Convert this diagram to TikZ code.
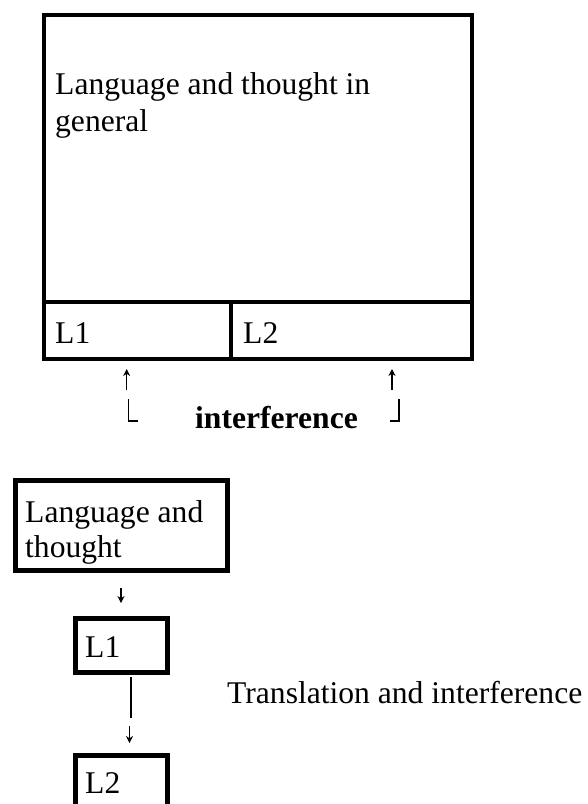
\documentclass[tikz,border=0pt]{standalone}
\usepackage{fontspec}
\setmainfont{Liberation Serif}
\usetikzlibrary{arrows.meta,calc}

\tikzset{
  box/.style={draw, line width=4pt, inner sep=0pt, anchor=north west},
  heavybox/.style={draw, line width=5pt, inner sep=0pt, anchor=north west},
  label/.style={anchor=base west, inner sep=0pt, align=left,
    font=\fontsize{31.6}{36}\selectfont},
  thinarrow/.style={line width=1.3pt, -{Stealth[length=7pt,width=7pt]}},
  bracket/.style={line width=1.3pt},
  stem/.style={line width=2pt}
}

\begin{document}
\begin{tikzpicture}[x=1pt, y=-1pt]
  \useasboundingbox (0,0) rectangle (587,804);
  \clip (0,0) rectangle (587,804);

  % general block with the two language cells underneath
  \node[box, minimum width=428pt, minimum height=287pt] (general) at (42,13) {};
  \node[box, minimum width=187pt, minimum height=57pt] (cellA) at (42,300) {};
  \node[box, minimum width=241pt, minimum height=57pt] (cellB) at (229,300) {};
  % multi-line labels are anchored on the baseline of their last line
  \node[label, font=\fontsize{31.6}{37}\selectfont] (generaltext) at (55,131) {Language and thought in\\general};
  \node[label] (cellAtext) at (55,343) {L1};
  \node[label] (cellBtext) at (243,343) {L2};

  % interference marks under the cells
  \coordinate (upA1) at (126.7,390);
  \coordinate (upA2) at (126.7,369);
  \coordinate (upB1) at (392,390);
  \coordinate (upB2) at (392,369);
  \draw[thinarrow] (upA1) -- (upA2);
  \draw[thinarrow] (upB1) -- (upB2);
  \coordinate (cornA1) at (128.3,399);
  \coordinate (cornA2) at (138,421);
  \coordinate (cornB1) at (399,399);
  \coordinate (cornB2) at (390,421);
  \draw[bracket] (cornA1) |- (cornA2);
  \draw[bracket] (cornB1) |- (cornB2);
  \node[label, font=\fontsize{31.6}{36}\selectfont\bfseries] (interf) at (195,428) {interference};

  % sequential chain
  \node[heavybox, minimum width=212pt, minimum height=90pt] (thought) at (12.5,477.5) {};
  \node[label, font=\fontsize{31.6}{35}\selectfont] (thoughttext) at (25,557) {Language and\\thought};
  \node[heavybox, minimum width=92pt, minimum height=54pt] (first) at (72.5,615.5) {};
  \node[label] (firsttext) at (85,657) {L1};
  \node[heavybox, minimum width=92pt, minimum height=90pt] (second) at (72.5,752.5) {};
  \node[label] (secondtext) at (85,793) {L2};

  \draw[thinarrow] ($(thought.south)+(0,15.5)$) -- ($(first.north)+(0,-12.5)$);
  \draw[stem] ($(first.south)+(9.5,2)$) -- ($(first.south)+(9.5,43.5)$);
  \draw[thinarrow] ($(first.south)+(8.5,51.5)$) -- ($(second.north)+(8.5,-9.5)$);

  \node[label] (transl) at (227,703) {Translation and interference};
\end{tikzpicture}
\end{document}
